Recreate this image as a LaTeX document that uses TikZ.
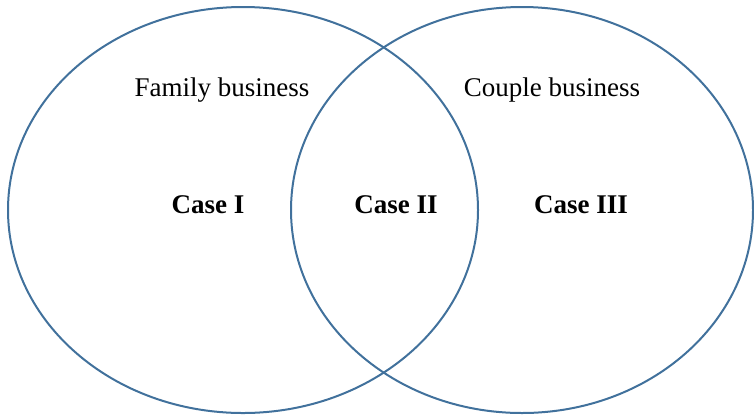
\documentclass[tikz,border=0pt]{standalone}
\usepackage{fontspec}
\setmainfont{Liberation Serif}
\definecolor{edge}{HTML}{41719C}
\begin{document}
\begin{tikzpicture}[x=1pt,y=-1pt,
  setline/.style={draw=edge,line width=2pt},
  lbl/.style={font=\fontsize{27}{30}\selectfont,inner sep=0pt},
  caselbl/.style={font=\fontsize{27}{30}\selectfont\bfseries,inner sep=0pt}]
\useasboundingbox (0,0) rectangle (754,416);
\draw[setline] (243,210) ellipse [x radius=235,y radius=203];
\draw[setline] (522,210) ellipse [x radius=231,y radius=203];
\node[lbl] (fam) at (222,90) {Family business};
\node[lbl] (cou) at (552,90) {Couple business};
\node[caselbl] (c1) at (208,205) {Case I};
\node[caselbl] (c2) at (396,205) {Case II};
\node[caselbl] (c3) at (581,205) {Case III};
\end{tikzpicture}
\end{document}
